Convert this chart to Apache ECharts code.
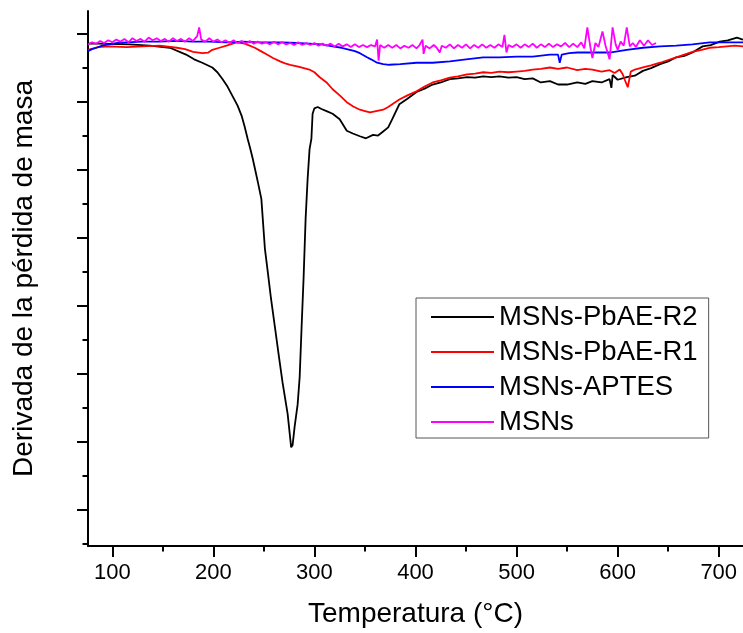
<!DOCTYPE html>
<html><head><meta charset="utf-8">
<script src="https://cdn.jsdelivr.net/npm/echarts@6/dist/echarts.min.js"></script>
<style>html,body{margin:0;padding:0;background:#fff}#c{width:743px;height:633px}</style>
</head><body><div id="c"></div>
<script>
// Temperature (°C) and derivative of mass loss (arbitrary units, one y tick = 1)
const r2T = [76,87,117,137,157,173,181,189,199,204,209,214,219,224,228,231,234,236.5,239,241.5,244,247.5,251,254,257,261,265,268.5,273.5,277,278.4,280.4,283.4,285.4,287.3,289.3,291.3,293.3,295.2,297,298.2,300,303.2,307,312,318,325,332,338,345,351,358,363,368,373,377,384,392,401,409,417,425,434,442,451,459,467,475,483,492,500,508,516,524,533,541,550,560,568,575,584,592,593.8,595,600,609,617,625,633,642,650,658,666,674,684,692,701,709,718,724];
const r2V = [6.85,6.85,6.84,6.82,6.79,6.69,6.62,6.57,6.50,6.43,6.33,6.22,6.08,5.94,5.79,5.63,5.45,5.31,5.16,4.99,4.82,4.57,3.84,3.48,3.11,2.68,2.24,1.87,1.41,0.92,0.95,1.22,1.55,1.95,2.68,3.41,4.28,4.87,5.30,5.45,5.82,5.90,5.92,5.89,5.86,5.82,5.74,5.57,5.53,5.49,5.46,5.51,5.50,5.56,5.62,5.74,5.96,6.04,6.14,6.19,6.25,6.28,6.33,6.34,6.36,6.35,6.37,6.36,6.37,6.35,6.36,6.33,6.34,6.28,6.30,6.25,6.25,6.28,6.26,6.30,6.28,6.33,6.20,6.39,6.32,6.36,6.38,6.45,6.49,6.55,6.59,6.65,6.67,6.72,6.81,6.83,6.88,6.90,6.94,6.91];

const r1T = [76,86,97,114,130,147,164,172,180,189,195,199,206,213,223,231,241,247,253,259,266,271,276,285,295,300,305,312,318,325,332,338,345,350,355,361,368,373,377,384,392,401,409,417,425,434,442,451,459,467,475,483,492,500,508,516,524,533,541,550,560,568,575,584,592,597,602,605,607,610,613,617,625,633,642,650,658,666,674,683,691,700,708,716,724];
const r1V = [6.76,6.80,6.81,6.80,6.81,6.82,6.79,6.77,6.73,6.71,6.72,6.76,6.79,6.82,6.87,6.85,6.79,6.74,6.69,6.64,6.59,6.56,6.54,6.51,6.47,6.43,6.36,6.28,6.18,6.09,5.99,5.93,5.88,5.86,5.84,5.86,5.88,5.92,5.96,6.03,6.09,6.15,6.22,6.28,6.31,6.35,6.37,6.40,6.41,6.43,6.42,6.44,6.43,6.44,6.45,6.47,6.48,6.50,6.48,6.50,6.46,6.48,6.47,6.44,6.46,6.42,6.47,6.40,6.32,6.21,6.44,6.47,6.50,6.53,6.57,6.61,6.65,6.69,6.73,6.76,6.79,6.80,6.81,6.82,6.81];

const apT = [76,80,84.5,90,97,105,114,130,147,163,180,196,213,229,246,268,282,295,307,318,327,335,340,345,352,356,362,368,374,385,401,417,434,450,467,483,500,516,533,541,542.7,544.7,552,560,575,592,609,625,642,658,674,691,707,724];
const apV = [6.74,6.77,6.79,6.82,6.84,6.86,6.87,6.88,6.88,6.89,6.88,6.88,6.87,6.88,6.87,6.87,6.86,6.85,6.84,6.81,6.79,6.76,6.74,6.71,6.65,6.62,6.57,6.55,6.54,6.55,6.57,6.57,6.59,6.62,6.65,6.65,6.66,6.66,6.69,6.69,6.57,6.69,6.71,6.72,6.72,6.72,6.76,6.79,6.81,6.82,6.84,6.87,6.87,6.87];

const msT = [76,80,84,88,92,96,100,104,108,112,116,120,124,128,132,136,140,144,148,152,156,160,164,168,172,176,180,184,186,188,192,196,200,204,208,212,216,220,224,228,232,236,240,244,248,252,256,260,264,268,272,276,280,284,288,292,296,300,304,308,312,316,320,324,328,332,336,340,344,348,352,356,360,362,363.5,365,369,373,377,381,385,389,393,397,401,404,407,408,410,414,418,421,424,426,430,434,438,442,446,450,454,458,462,466,470,474,478,482,486,488,490,492,496,500,504,508,512,516,520,524,528,532,536,540,544,548,552,556,560,564,567,570,573,575,578,581,585,588,592,595,598,600,603,606,609,612,615,618,622,626,630,634,638];
const msV = [6.84,6.87,6.85,6.89,6.86,6.90,6.87,6.91,6.88,6.92,6.87,6.93,6.89,6.92,6.88,6.94,6.90,6.93,6.89,6.92,6.88,6.93,6.89,6.92,6.88,6.93,6.89,6.96,7.09,6.91,6.88,6.93,6.88,6.91,6.87,6.90,6.86,6.90,6.86,6.89,6.85,6.89,6.85,6.88,6.85,6.87,6.84,6.88,6.84,6.87,6.84,6.86,6.83,6.87,6.83,6.86,6.83,6.86,6.82,6.85,6.82,6.85,6.81,6.85,6.81,6.84,6.80,6.84,6.80,6.83,6.80,6.83,6.81,6.91,6.60,6.83,6.79,6.83,6.79,6.83,6.78,6.82,6.79,6.83,6.78,6.83,6.91,6.70,6.82,6.78,6.83,6.79,6.72,6.82,6.79,6.84,6.78,6.83,6.79,6.84,6.78,6.83,6.79,6.84,6.79,6.83,6.79,6.84,6.80,6.98,6.72,6.83,6.80,6.84,6.79,6.84,6.80,6.85,6.79,6.84,6.80,6.85,6.80,6.84,6.81,6.86,6.80,6.85,6.80,6.87,6.78,7.09,6.80,6.64,6.86,6.80,7.03,6.82,6.62,7.09,6.84,6.76,6.88,6.82,7.09,6.81,6.86,6.80,6.90,6.82,6.90,6.83,6.86];

const xLabels = [100,200,300,400,500,600,700];
const xMinor = [150,250,350,450,550,650];
const yMajor = [0,1,2,3,4,5,6,7];
const yMinor = [-0.5,0.5,1.5,2.5,3.5,4.5,5.5,6.5];
const names = ['MSNs-PbAE-R2','MSNs-PbAE-R1','MSNs-APTES','MSNs'];

const zip = (a,b)=>a.map((t,i)=>[t,b[i]]);
const FONT = 'Liberation Sans, Arial, sans-serif';
const XMIN = 76, XMAX = 724, YMIN = -0.53, YMAX = 7.33;
const axisLine = {show:true, onZero:false, lineStyle:{color:'#000', width:2}};
const noLine = {show:false, onZero:false};

const chart = echarts.init(document.getElementById('c'), null, {renderer:'canvas'});
const mk = (name, T, V, color) => ({
  name, type:'line', data: zip(T,V), symbol:'none', showSymbol:false,
  lineStyle:{color, width:1.8}, itemStyle:{color}, animation:false,
  xAxisIndex:0, yAxisIndex:0, clip:true
});
chart.setOption({
  animation:false,
  backgroundColor:'#fff',
  grid:{left:88, right:0, top:11, bottom:83.5, containLabel:false},
  xAxis:[{
    type:'value', min:XMIN, max:XMAX, position:'bottom',
    name:'Temperatura (°C)', nameLocation:'middle', nameGap:54,
    nameTextStyle:{fontFamily:FONT, fontSize:28, color:'#000'},
    axisLine, splitLine:{show:false},
    axisTick:{show:true, inside:false, length:11, lineStyle:{color:'#000', width:2}, customValues:xLabels},
    axisLabel:{show:true, customValues:xLabels, margin:16, fontFamily:FONT, fontSize:22, color:'#000'}
  },{
    type:'value', min:XMIN, max:XMAX, position:'bottom',
    axisLine:noLine, splitLine:{show:false},
    axisTick:{show:true, length:5.5, lineStyle:{color:'#000', width:2}, customValues:xMinor},
    axisLabel:{show:false}
  }],
  yAxis:[{
    type:'value', min:YMIN, max:YMAX, position:'left',
    name:'Derivada de la pérdida de masa', nameLocation:'middle', nameGap:50, nameRotate:90,
    nameTextStyle:{fontFamily:FONT, fontSize:28, color:'#000'},
    axisLine, splitLine:{show:false},
    axisTick:{show:true, length:11, lineStyle:{color:'#000', width:2}, customValues:yMajor},
    axisLabel:{show:false}
  },{
    type:'value', min:YMIN, max:YMAX, position:'left',
    axisLine:noLine, splitLine:{show:false},
    axisTick:{show:true, length:5.5, lineStyle:{color:'#000', width:2}, customValues:yMinor},
    axisLabel:{show:false}
  }],
  legend:{
    data:names.map(n=>({name:n, icon:'rect'})), orient:'vertical', left:416, top:298,
    padding:[5,11,2,15], itemGap:7, itemWidth:63, itemHeight:2, itemTextGap:10,
    borderColor:'#555', borderWidth:1, backgroundColor:'#fff',
    textStyle:{fontFamily:FONT, fontSize:27.5, color:'#000', lineHeight:27.5}
  },
  series:[
    mk(names[0], r2T, r2V, '#000000'),
    mk(names[1], r1T, r1V, '#ff0000'),
    mk(names[2], apT, apV, '#0000ff'),
    mk(names[3], msT, msV, '#ff00ff')
  ]
});
</script></body></html>
